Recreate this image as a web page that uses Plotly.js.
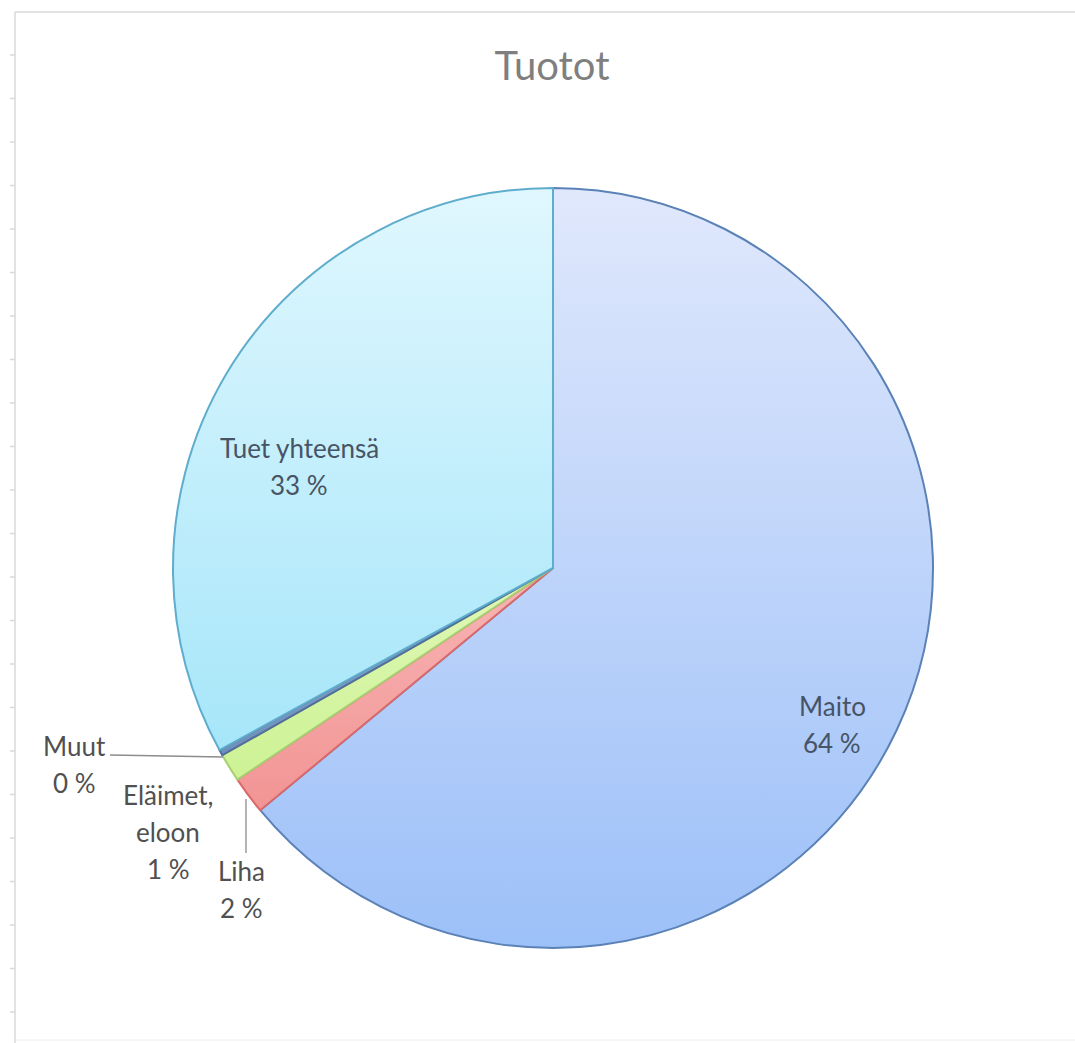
<!DOCTYPE html>
<html>
<head>
<meta charset="utf-8">
<script src="https://cdn.plot.ly/plotly-3.0.1.min.js"></script>
<style>html,body{margin:0;padding:0;background:#fff;}#chart{width:1075px;height:1043px;}</style>
</head>
<body>
<div id="chart"></div>
<script>
// ---- data ----
const categories = ["Maito", "Liha", "Eläimet, eloon", "Muut", "Tuet yhteensä"];
const values = [64.0, 1.6, 1.2, 0.25, 32.95];
const sliceColors = ["#bcd3fa", "#f4a3a3", "#d6f5a6", "#7f9cc4", "#bdeefc"];
const sliceLines = ["#5b82b6", "#d9696b", "#a8cf72", "#4f6f9c", "#5fadcd"];
const gradTop = ["#e0e8fc", "#f8b5b5", "#e0f8b8", "#8fa9cc", "#e0f7fe"];
const gradBottom = ["#9cc0f8", "#f29494", "#cdf294", "#6f8fbc", "#a6e6f9"];
const titleText = "Tuotot";

const W = 1075, H = 1043;
const M = {l: 173, r: 142, t: 188, b: 95};
const px = x => (x - M.l) / (W - M.l - M.r);
const py = y => 1 - (y - M.t) / (H - M.t - M.b);

const total = values.reduce((a, b) => a + b, 0);
const pctText = values.map(v => Math.round(v / total * 100) + " %");

// label lines: [name lines..., percent]
const labelLines = [
  ["Maito"], ["Liha"], ["Eläimet,", "eloon"], ["Muut"], ["Tuet yhteensä"]
];
const labelPos = [
  [832, 706], [241, 871], [168, 795], [74, 746], [299, 448]
];
const lineStep = 37;

const annotations = [];
labelLines.forEach((lines, i) => {
  const all = lines.concat([pctText[i]]);
  all.forEach((t, k) => {
    annotations.push({
      text: t, showarrow: false, xref: "paper", yref: "paper",
      x: px(labelPos[i][0]), y: py(labelPos[i][1] + k * lineStep),
      xanchor: "center", yanchor: "middle",
      font: {family: "Lato, 'Open Sans', sans-serif", size: 26, color: i === 0 || i === 4 ? "#475466" : "#505050"}
    });
  });
});

const gray = "#d9d9d9";
const shapes = [
  // leader lines
  {type: "line", xref: "paper", yref: "paper", x0: px(110), y0: py(755), x1: px(223), y1: py(757), line: {color: "#8c8c8c", width: 1.3}},
  {type: "line", xref: "paper", yref: "paper", x0: px(246), y0: py(799), x1: px(246), y1: py(853), line: {color: "#8c8c8c", width: 1.3}},
  // worksheet frame
  {type: "line", xref: "paper", yref: "paper", x0: px(15), y0: py(12), x1: px(1075), y1: py(12), line: {color: gray, width: 1.5}},
  {type: "line", xref: "paper", yref: "paper", x0: px(15), y0: py(12), x1: px(15), y1: py(1043), line: {color: gray, width: 1.5}},
  {type: "line", xref: "paper", yref: "paper", x0: px(15), y0: py(1040), x1: px(1075), y1: py(1040), line: {color: "#eeeeee", width: 1}}
];
for (let y = 55; y < 1040; y += 43.5) {
  shapes.push({type: "line", xref: "paper", yref: "paper", x0: px(10), y0: py(y), x1: px(15), y1: py(y), line: {color: gray, width: 1.5}});
}

const trace = {
  type: "pie",
  labels: categories,
  values: values,
  sort: false,
  direction: "clockwise",
  rotation: 0,
  textinfo: "none",
  hoverinfo: "label+percent",
  marker: {colors: sliceColors, line: {color: sliceLines, width: 2}},
  domain: {x: [0, 1], y: [0, 1]},
  showlegend: false
};

const layout = {
  width: W, height: H,
  margin: M,
  paper_bgcolor: "#ffffff",
  title: {text: titleText, x: px(552), xref: "paper", xanchor: "center", y: 1 - 66 / H, yanchor: "middle",
          font: {family: "Lato, 'Open Sans', sans-serif", size: 40, color: "#7f7f7f"}},
  annotations: annotations,
  shapes: shapes,
  showlegend: false
};

Plotly.newPlot("chart", [trace], layout, {displayModeBar: false, staticPlot: true}).then(gd => {
  const svg = gd.querySelector(".main-svg");
  const ns = "http://www.w3.org/2000/svg";
  let defs = svg.querySelector("defs");
  if (!defs) { defs = document.createElementNS(ns, "defs"); svg.insertBefore(defs, svg.firstChild); }
  categories.forEach((c, i) => {
    const g = document.createElementNS(ns, "linearGradient");
    g.setAttribute("id", "sliceGrad" + i);
    g.setAttribute("x1", "0"); g.setAttribute("y1", "0");
    g.setAttribute("x2", "0"); g.setAttribute("y2", "1");
    [[0, gradTop[i]], [1, gradBottom[i]]].forEach(([o, col]) => {
      const s = document.createElementNS(ns, "stop");
      s.setAttribute("offset", o); s.setAttribute("stop-color", col);
      g.appendChild(s);
    });
    defs.appendChild(g);
  });
  gd.querySelectorAll(".slice").forEach((sl, i) => {
    const p = sl.querySelector("path.surface");
    if (p) p.style.fill = "url(#sliceGrad" + i + ")";
  });
});
</script>
</body>
</html>
